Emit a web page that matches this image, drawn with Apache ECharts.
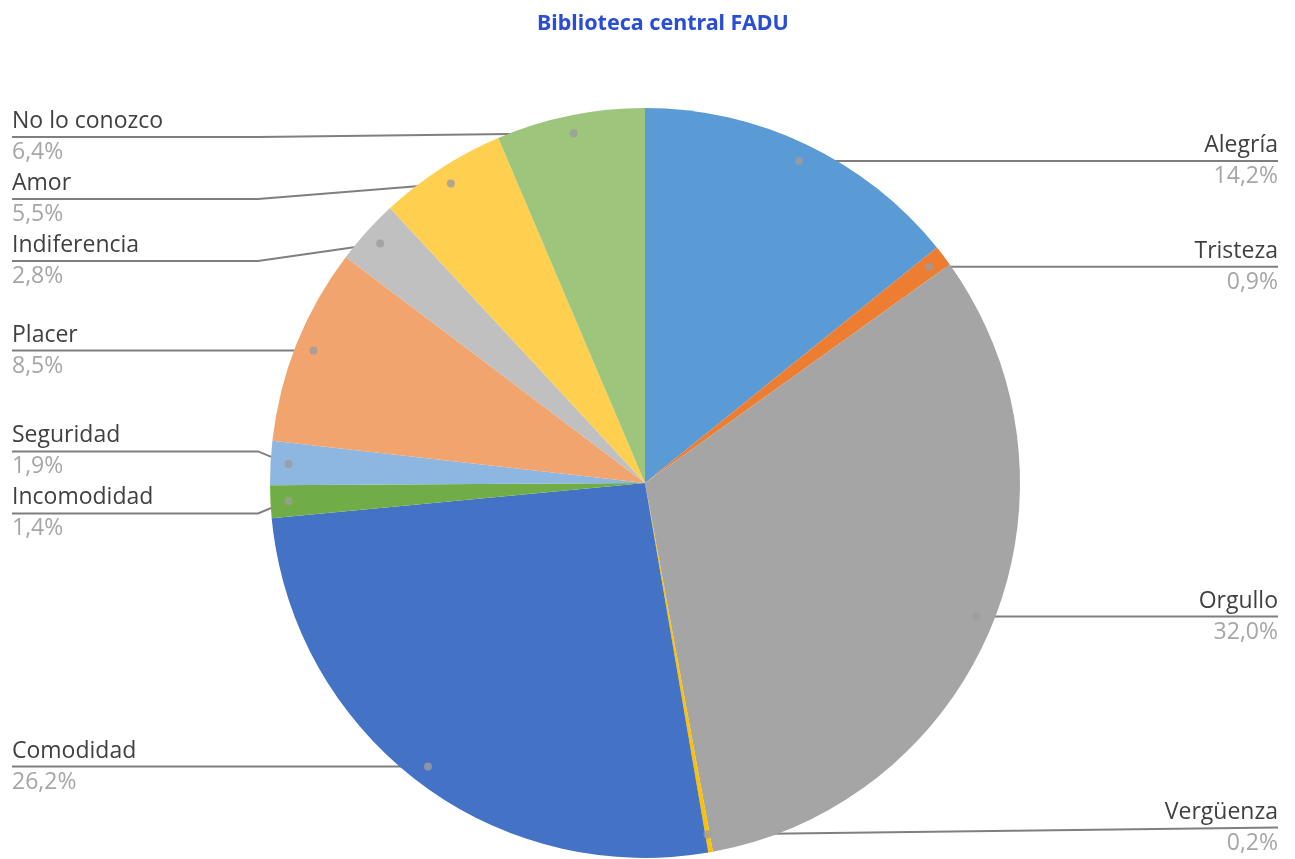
<!DOCTYPE html>
<html>
<head>
<meta charset="utf-8">
<script src="https://cdn.jsdelivr.net/npm/echarts@6/dist/echarts.min.js"></script>
<style>
html,body{margin:0;padding:0;background:#fff;}
#main{width:1295px;height:859px;}
</style>
</head>
<body>
<div id="main"></div>
<script>
var categories = ['Alegría', 'Tristeza', 'Orgullo', 'Vergüenza', 'Comodidad', 'Incomodidad', 'Seguridad', 'Placer', 'Indiferencia', 'Amor', 'No lo conozco'];
var values = [14.2, 0.9, 32.0, 0.2, 26.2, 1.4, 1.9, 8.5, 2.8, 5.5, 6.4];
var colors = ['#5B9BD5', '#ED7D31', '#A5A5A5', '#FFC000', '#4472C4', '#70AD47', '#8DB6E1', '#F1A46E', '#C0C0C0', '#FFD04F', '#9DC57C'];
var titleText = 'Biblioteca central FADU';

var W = 1295, H = 859;
var CX = 645, CY = 483, R = 375, RD = 357;
var LABEL_H = 62;
var FONT = 'Open Sans';

var total = values.reduce(function (a, b) { return a + b; }, 0);
var mids = [];
(function () {
  var cum = 0;
  values.forEach(function (v) { mids.push((cum + v / 2) / total); cum += v; });
})();
var dotData = mids.map(function (m) { return [RD, m * 100]; });

// Label vertical placement: start at the anchor height, resolve overlaps per
// side by least-squares cluster merging, keep labels inside the plot area.
var labelY = (function () {
  var out = [];
  var topBound = CY - R - 2 + LABEL_H / 2;
  var botBound = H - LABEL_H / 2 - 0.5;
  var sides = { L: [], R: [] };
  mids.forEach(function (m, i) {
    var a = m * 2 * Math.PI;
    var y = CY - RD * Math.cos(a);
    (Math.sin(a) < 0 ? sides.L : sides.R).push({ i: i, y: y });
  });
  ['L', 'R'].forEach(function (k) {
    var items = sides[k].sort(function (a, b) { return a.y - b.y; });
    var blocks = [];
    items.forEach(function (it) {
      blocks.push({ items: [it], t: it.y });
      while (blocks.length > 1) {
        var cur = blocks[blocks.length - 1], prev = blocks[blocks.length - 2];
        if (prev.t + prev.items.length * LABEL_H > cur.t) {
          var merged = prev.items.concat(cur.items);
          var s = 0;
          merged.forEach(function (m, j) { s += m.y - j * LABEL_H; });
          blocks.splice(blocks.length - 2, 2, { items: merged, t: s / merged.length });
        } else break;
      }
    });
    var ys = [];
    blocks.forEach(function (b) {
      b.items.forEach(function (it, j) { ys.push({ i: it.i, y: b.t + j * LABEL_H }); });
    });
    var prevY = -Infinity;
    ys.forEach(function (o) {
      var y = Math.max(o.y, topBound, prevY + LABEL_H);
      y = Math.min(y, botBound);
      out[o.i] = y;
      prevY = y;
    });
  });
  return out;
})();

var pieData = categories.map(function (c, i) {
  return { name: c, value: values[i], itemStyle: { color: colors[i] } };
});
var labelData = categories.map(function (c, i) {
  return { name: c, value: values[i] };
});

function fmtPct(v) { return v.toFixed(1).replace('.', ',') + '%'; }

var chart = echarts.init(document.getElementById('main'), null, { renderer: 'canvas' });
chart.setOption({
  animation: false,
  backgroundColor: '#ffffff',
  title: {
    text: titleText,
    left: 532,
    top: 8,
    textStyle: { color: '#2A4DD6', fontSize: 21.5, fontWeight: 'bold', fontFamily: 'Noto Sans' }
  },
  polar: { center: [CX, CY], radius: R },
  angleAxis: { type: 'value', min: 0, max: 100, startAngle: 90, clockwise: true, show: false },
  radiusAxis: { type: 'value', min: 0, max: R, show: false },
  series: [
    {
      type: 'pie',
      left: 0, right: 5, top: 0, bottom: 0,
      center: [CX, CY],
      radius: [0, R],
      startAngle: 90,
      clockwise: true,
      silent: true,
      label: { show: false },
      labelLine: { show: false },
      data: pieData
    },
    {
      type: 'pie',
      left: 0, right: 5, top: 0, bottom: 0,
      center: [CX, CY],
      radius: [0, RD],
      startAngle: 90,
      clockwise: true,
      silent: true,
      avoidLabelOverlap: false,
      itemStyle: { color: 'rgba(0,0,0,0)' },
      label: {
        show: true,
        position: 'outside',
        alignTo: 'edge',
        edgeDistance: 12,
        distanceToLabelLine: 0,
        verticalAlign: 'middle',
        formatter: function (p) { return '{n|' + p.name + '}\n{v|' + fmtPct(p.value) + '}'; },
        rich: {
          n: { fontSize: 23, color: '#404040', lineHeight: 31, fontFamily: FONT },
          v: { fontSize: 23, color: '#A6A6A6', lineHeight: 31, fontFamily: FONT }
        }
      },
      labelLine: {
        show: true,
        length: 0,
        length2: 10,
        smooth: false,
        lineStyle: { color: '#7F7F7F', width: 2 }
      },
      labelLayout: function (p) {
        var pts = p.labelLinePoints;
        if (!pts) return {};
        var r = p.labelRect;
        var isLeft = r.x + r.width / 2 < CX;
        var y = labelY[p.dataIndex];
        var p0 = pts[0];
        var endX = isLeft ? r.x : r.x + r.width;
        var kink;
        if (Math.abs(p0[1] - y) < 1) {
          kink = [p0[0], y];
        } else if (isLeft) {
          kink = [Math.min(CX - R - 12, p0[0]), y];
        } else {
          kink = [endX, y];
        }
        return { y: y, labelLinePoints: [[p0[0], p0[1]], kink, [endX, y]] };
      },
      data: labelData
    },
    {
      type: 'scatter',
      coordinateSystem: 'polar',
      silent: true,
      symbol: 'circle',
      symbolSize: 8,
      itemStyle: { color: '#9C9C9C' },
      data: dotData,
      z: 10
    }
  ]
});
</script>
</body>
</html>
